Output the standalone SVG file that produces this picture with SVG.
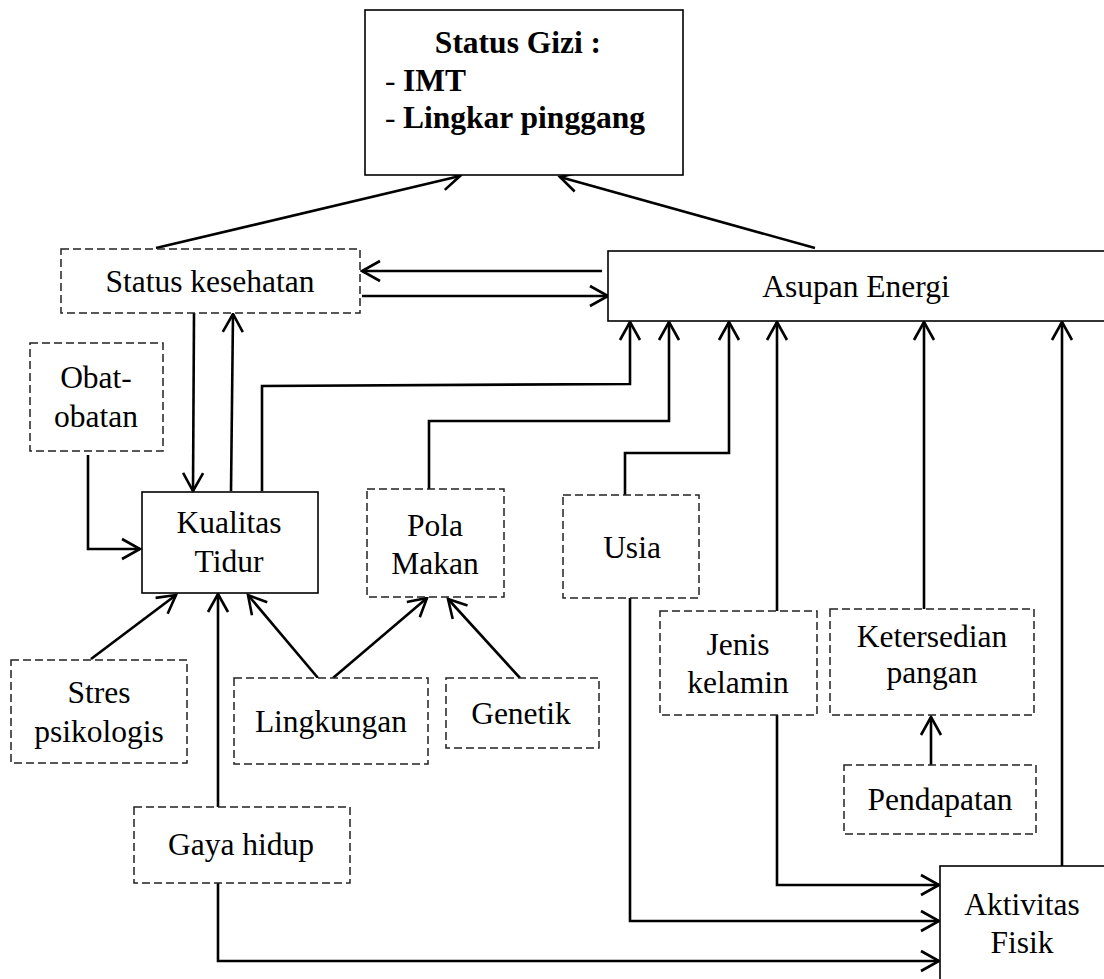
<svg xmlns="http://www.w3.org/2000/svg" width="1104" height="979" viewBox="0 0 1104 979">
<style>
.t{font-family:"Liberation Serif","Times New Roman",serif;font-size:31.5px;fill:#000;text-anchor:middle}
.b{font-weight:bold}
.solid{fill:#fff;stroke:#000;stroke-width:1.6}
.dash{fill:#fff;stroke:#222;stroke-width:1.5;stroke-dasharray:8 4}
.c{fill:none;stroke:#000;stroke-width:2.6;marker-end:url(#ah)}
</style>
<defs>
<marker id="ah" markerUnits="userSpaceOnUse" viewBox="0 0 24 24" markerWidth="24" markerHeight="24" refX="20" refY="12" orient="auto">
<path d="M2 2 L20 12 L2 22" fill="none" stroke="#000" stroke-width="2.6"/>
</marker>
</defs>
<rect width="1104" height="979" fill="#fff"/>
<g id="connectors">
<line class="c" x1="156" y1="248" x2="460" y2="176"/>
<line class="c" x1="815" y1="248" x2="560" y2="177"/>
<line class="c" x1="602" y1="271" x2="362" y2="271"/>
<line class="c" x1="362" y1="296" x2="608" y2="296"/>
<line class="c" x1="194" y1="313" x2="193" y2="491"/>
<line class="c" x1="231" y1="491" x2="233" y2="314"/>
<polyline class="c" points="262,491 262,386 630,384 630,322"/>
<polyline class="c" points="88,455 88,549 140,549"/>
<polyline class="c" points="429,489 429,421 669,421 669,322"/>
<polyline class="c" points="625,495 625,453 729,453 729,322"/>
<line class="c" x1="777" y1="611" x2="777" y2="322"/>
<line class="c" x1="924" y1="609" x2="924" y2="322"/>
<line class="c" x1="1062" y1="866" x2="1062" y2="322"/>
<line class="c" x1="931" y1="765" x2="931" y2="717"/>
<line class="c" x1="91" y1="659" x2="176" y2="595"/>
<line class="c" x1="218" y1="807" x2="218" y2="594"/>
<line class="c" x1="318" y1="678" x2="248" y2="595"/>
<line class="c" x1="333" y1="678" x2="427" y2="598"/>
<line class="c" x1="520" y1="678" x2="448" y2="599"/>
<polyline class="c" points="630,598 630,921 939,921"/>
<polyline class="c" points="777,715 777,885 939,885"/>
<polyline class="c" points="218,883 218,961 939,961"/>
</g>
<g id="status-gizi">
<rect class="solid" x="365" y="10" width="318" height="165"/>
<text class="t b" x="518" y="53">Status Gizi :</text>
<text class="t" x="385" y="91" style="text-anchor:start">-</text>
<text class="t b" x="403" y="91" style="text-anchor:start">IMT</text>
<text class="t" x="385" y="128" style="text-anchor:start">-</text>
<text class="t b" x="403" y="128" style="text-anchor:start">Lingkar pinggang</text>
</g>
<g id="status-kesehatan">
<rect class="dash" x="61" y="249" width="299" height="64"/>
<text class="t" x="210" y="292">Status kesehatan</text>
</g>
<g id="asupan-energi">
<rect class="solid" x="608" y="251" width="500" height="70"/>
<text class="t" x="856" y="297">Asupan Energi</text>
</g>
<g id="obat-obatan">
<rect class="dash" x="30" y="343" width="133" height="108"/>
<text class="t" x="96" y="388">Obat-</text>
<text class="t" x="96" y="427">obatan</text>
</g>
<g id="kualitas-tidur">
<rect class="solid" x="142" y="492" width="176" height="101"/>
<text class="t" x="229" y="533">Kualitas</text>
<text class="t" x="229" y="572">Tidur</text>
</g>
<g id="pola-makan">
<rect class="dash" x="367" y="489" width="137" height="108"/>
<text class="t" x="435" y="536">Pola</text>
<text class="t" x="435" y="574">Makan</text>
</g>
<g id="usia">
<rect class="dash" x="563" y="495" width="136" height="103"/>
<text class="t" x="632" y="558">Usia</text>
</g>
<g id="jenis-kelamin">
<rect class="dash" x="660" y="611" width="157" height="104"/>
<text class="t" x="738" y="655">Jenis</text>
<text class="t" x="738" y="693">kelamin</text>
</g>
<g id="ketersedian-pangan">
<rect class="dash" x="830" y="609" width="204" height="106"/>
<text class="t" x="932" y="647">Ketersedian</text>
<text class="t" x="932" y="683">pangan</text>
</g>
<g id="pendapatan">
<rect class="dash" x="844" y="765" width="192" height="69"/>
<text class="t" x="940" y="810">Pendapatan</text>
</g>
<g id="stres-psikologis">
<rect class="dash" x="11" y="660" width="176" height="103"/>
<text class="t" x="99" y="703">Stres</text>
<text class="t" x="99" y="742">psikologis</text>
</g>
<g id="lingkungan">
<rect class="dash" x="234" y="678" width="194" height="86"/>
<text class="t" x="331" y="732">Lingkungan</text>
</g>
<g id="genetik">
<rect class="dash" x="446" y="678" width="153" height="70"/>
<text class="t" x="521" y="724">Genetik</text>
</g>
<g id="gaya-hidup">
<rect class="dash" x="134" y="807" width="216" height="76"/>
<text class="t" x="241" y="855">Gaya hidup</text>
</g>
<g id="aktivitas-fisik">
<rect class="solid" x="940" y="866" width="170" height="120"/>
<text class="t" x="1022" y="915">Aktivitas</text>
<text class="t" x="1022" y="953">Fisik</text>
</g>
</svg>
